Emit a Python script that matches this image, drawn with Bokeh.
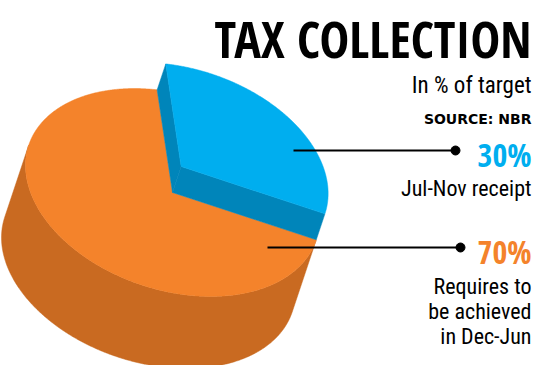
import numpy as np
from bokeh.plotting import figure
from bokeh.models import Range1d
from bokeh.core.properties import value
from bokeh.embed import file_html
from bokeh.resources import INLINE

# ---- data ----
categories = ["Jul-Nov receipt", "Requires to be achieved in Dec-Jun"]
shares = [30, 70]
pct_labels = ["30%", "70%"]
desc_lines = [["Jul-Nov receipt"], ["Requires to", "be achieved", "in Dec-Jun"]]
title = "TAX COLLECTION"
subtitle = "In % of target"
source = "SOURCE: NBR"

# ---- style ----
top_colors = ["#00AEEF", "#F4832B"]
side_colors = ["#0085BA", "#C96A21"]
W, H = 535, 365

p = figure(width=W, height=H, output_backend="svg", toolbar_location=None,
           x_range=Range1d(0, W), y_range=Range1d(H, 0), min_border=0)
p.axis.visible = False
p.grid.visible = False
p.outline_line_color = None
p.background_fill_color = "white"
p.border_fill_color = "white"

# projected 3D pie geometry (screen px, y down)
C = np.array([172.0, 192.0])
U = np.array([147.0, 27.0])
V = np.array([0.0, 100.4])
D = np.array([-24.0, 72.0])   # full thickness vector
LIFT = 0.36                   # exploded slice lift (fraction of thickness)
START = 264.0                 # start angle of the first slice

def pt(t, h=0.0):
    r = np.radians(np.atleast_1d(t))
    return C + np.cos(r)[:, None] * U + np.sin(r)[:, None] * V - h * D

def cross(a, b):
    return a[0] * b[1] - a[1] * b[0]

t0 = np.degrees(np.arctan2(cross(V, D), cross(U, D)))  # right tangent angle

angles = []
a = START
for s in shares:
    span = s / sum(shares) * 360.0
    angles.append((a, a + span))
    a += span

def front(ts):
    return ((ts - t0) % 360.0) <= 180.0

# --- orange (second slice), base level ---
o0, o1 = angles[1]
ts = np.linspace(o0, o1, 600)
m = front(ts)
tv = ts[m]
top = pt(tv, 0)
bot = pt(tv, -1)
side = np.vstack([top, bot[::-1]])
p.patch(side[:, 0], side[:, 1], fill_color=side_colors[1], line_color=side_colors[1], line_width=0.5)
wedge = np.vstack([C[None, :], pt(ts, 0)])
p.patch(wedge[:, 0], wedge[:, 1], fill_color=top_colors[1], line_color=top_colors[1], line_width=0.5)

# --- blue (first slice), lifted ---
b0, b1 = angles[0]
tb = np.linspace(b0, b1, 300)
Cl = C - LIFT * D
for s in (b0, b1):
    quad = np.vstack([C[None, :], pt(s, 0), pt(s, LIFT), Cl[None, :]])
    p.patch(quad[:, 0], quad[:, 1], fill_color=side_colors[0], line_color=side_colors[0], line_width=0.5)
mb = front(tb)
if mb.sum() > 1:
    tvb = tb[mb]
    sd = np.vstack([pt(tvb, LIFT), pt(tvb, 0)[::-1]])
    p.patch(sd[:, 0], sd[:, 1], fill_color=side_colors[0], line_color=side_colors[0], line_width=0.5)
wb = np.vstack([Cl[None, :], pt(tb, LIFT)])
p.patch(wb[:, 0], wb[:, 1], fill_color=top_colors[0], line_color=top_colors[0], line_width=0.5)

# --- leader lines ---
lead_y = [150, 247]
lead_x0 = [293, 267]
lead_x1 = [455, 460]
for y, xa, xb in zip(lead_y, lead_x0, lead_x1):
    p.line([xa, xb], [y, y], line_color="black", line_width=2)
    p.scatter([xb], [y], size=9, color="black")

RX = 531
bold_cond = value("Open Sans Condensed")
reg_cond = value("Roboto Condensed")

def label(y, txt, font, size, style="normal", color="black"):
    # compensate rendered baseline shift (~0.33 em)
    p.text([RX], [y - 0.33 * size], text=[txt], text_font=font, text_font_style=style,
           text_font_size=f"{size}px", text_align="right", text_baseline="alphabetic",
           text_color=color)

label(55, title, bold_cond, 50, "bold")
label(93, subtitle, reg_cond, 23)
label(123, source, value("DejaVu Sans"), 14, "bold")

pct_y = [165, 262]
desc_y0 = [195, 293]
for i in range(2):
    label(pct_y[i], pct_labels[i], bold_cond, 32, "bold", top_colors[i])
    for j, line in enumerate(desc_lines[i]):
        label(desc_y0[i] + 25 * j, line, reg_cond, 22)

open("out.html", "w").write(file_html(p, INLINE))
